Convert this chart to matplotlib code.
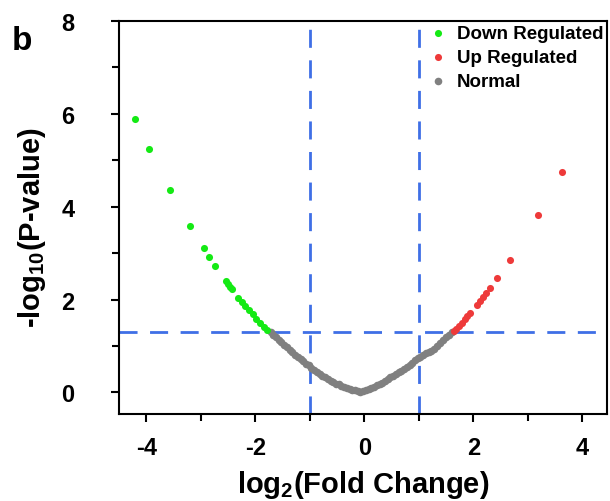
import numpy as np
import matplotlib
matplotlib.use('Agg')
import matplotlib.pyplot as plt

plt.rcParams['font.family'] = ['Liberation Sans', 'DejaVu Sans']
plt.rcParams['font.weight'] = 'bold'
plt.rcParams['axes.unicode_minus'] = False
plt.rcParams['mathtext.fontset'] = 'custom'
plt.rcParams['mathtext.rm'] = 'Liberation Sans:bold'
plt.rcParams['mathtext.bf'] = 'Liberation Sans:bold'
plt.rcParams['mathtext.default'] = 'bf'

# down regulated (green)
down_x = [-4.20, -3.94, -3.57, -3.19, -2.94, -2.84, -2.73, -2.54, -2.50, -2.46,
          -2.42, -2.31, -2.25, -2.19, -2.12, -2.05, -1.98, -1.92, -1.84, -1.79]
down_y = [5.88, 5.24, 4.37, 3.58, 3.12, 2.92, 2.73, 2.40, 2.33, 2.27,
          2.22, 2.04, 1.95, 1.86, 1.77, 1.68, 1.57, 1.50, 1.41, 1.34]

# up regulated (red)
up_x = [3.62, 3.19, 2.68, 2.44, 2.30, 2.23, 2.17, 2.12, 2.06, 1.94,
        1.89, 1.84, 1.79, 1.74, 1.69, 1.64]
up_y = [4.75, 3.83, 2.86, 2.46, 2.24, 2.14, 2.05, 1.97, 1.88, 1.72,
        1.64, 1.57, 1.50, 1.43, 1.37, 1.32]

# normal (gray), left arm then right arm
norm_x = [-1.72, -1.67, -1.62, -1.57, -1.52, -1.47, -1.42, -1.37, -1.32, -1.27,
          -1.22, -1.17, -1.12, -1.07, -1.02, -0.97, -0.92, -0.87, -0.82, -0.77,
          -0.72, -0.67, -0.62, -0.57, -0.52, -0.47, -0.42, -0.37, -0.32, -0.27,
          -0.22, -0.17, -0.12, -0.07,
          -0.02, 0.03, 0.08, 0.13, 0.18, 0.23, 0.28, 0.33, 0.38, 0.43,
          0.48, 0.53, 0.58, 0.63, 0.68, 0.73, 0.78, 0.83, 0.88, 0.93,
          0.98, 1.03, 1.08, 1.13, 1.18, 1.23, 1.28, 1.34, 1.39, 1.44,
          1.49, 1.55, 1.60]
norm_y = [1.30, 1.24, 1.19, 1.13, 1.08, 1.02, 0.97, 0.91, 0.86, 0.81,
          0.76, 0.72, 0.67, 0.62, 0.58, 0.53, 0.49, 0.44, 0.40, 0.36,
          0.33, 0.29, 0.25, 0.22, 0.19, 0.17, 0.14, 0.12, 0.10, 0.08,
          0.06, 0.04, 0.02, 0.00,
          0.02, 0.05, 0.07, 0.10, 0.12, 0.15, 0.18, 0.21, 0.25, 0.28,
          0.32, 0.35, 0.39, 0.43, 0.47, 0.51, 0.55, 0.59, 0.64, 0.69,
          0.73, 0.77, 0.80, 0.84, 0.87, 0.90, 0.93, 1.00, 1.07, 1.13,
          1.19, 1.24, 1.29]

fc_cut = 1
p_cut = 1.3

fig = plt.figure(figsize=(6.1, 5.02), dpi=100)
ax = fig.add_axes([0.195, 0.173, 0.8, 0.783])

ax.axvline(-fc_cut, color='#3f6fe6', lw=2, dashes=(6.5, 4.5), zorder=1)
ax.axvline(fc_cut, color='#3f6fe6', lw=2, dashes=(6.5, 4.5), zorder=1)
ax.axhline(p_cut, color='#3f6fe6', lw=2, dashes=(6.5, 4.5), zorder=1)

ax.scatter(down_x, down_y, s=26, color='#14ea14', lw=0, label='Down Regulated', zorder=3)
ax.scatter(up_x, up_y, s=26, color='#ee3a3a', lw=0, label='Up Regulated', zorder=3)
ax.scatter(norm_x, norm_y, s=30, color='#808080', lw=0, label='Normal', zorder=2)

ax.set_xlim(-4.5, 4.45)
ax.set_ylim(-0.47, 8)
ax.set_xticks([-4, -2, 0, 2, 4])
ax.set_xticks([-3, -1, 1, 3], minor=True)
ax.set_yticks([0, 2, 4, 6, 8])
ax.set_yticks([1, 3, 5, 7], minor=True)
ax.tick_params(which='major', length=6, width=1.5, labelsize=17)
ax.tick_params(which='minor', length=5, width=1.5)
ax.tick_params(axis='x', which='major', pad=10)
ax.tick_params(axis='y', which='major', pad=26)
for s in ax.spines.values():
    s.set_linewidth(1.5)

ax.set_xlabel('log$_{2}$(Fold Change)', fontsize=21, fontweight='bold', labelpad=6)
ax.set_ylabel('-log$_{10}$(P-value)', fontsize=21, fontweight='bold')
ax.yaxis.set_label_coords(-0.145, 0.478)

leg = ax.legend(loc='upper right', frameon=False, fontsize=13.5, handletextpad=0.2,
                handlelength=1.6, borderaxespad=0.0, borderpad=0.2,
                labelspacing=0.36, markerscale=1.0)

fig.text(0.02, 0.90, 'b', fontsize=24, fontweight='bold')

fig.savefig('out.png', dpi=100)
